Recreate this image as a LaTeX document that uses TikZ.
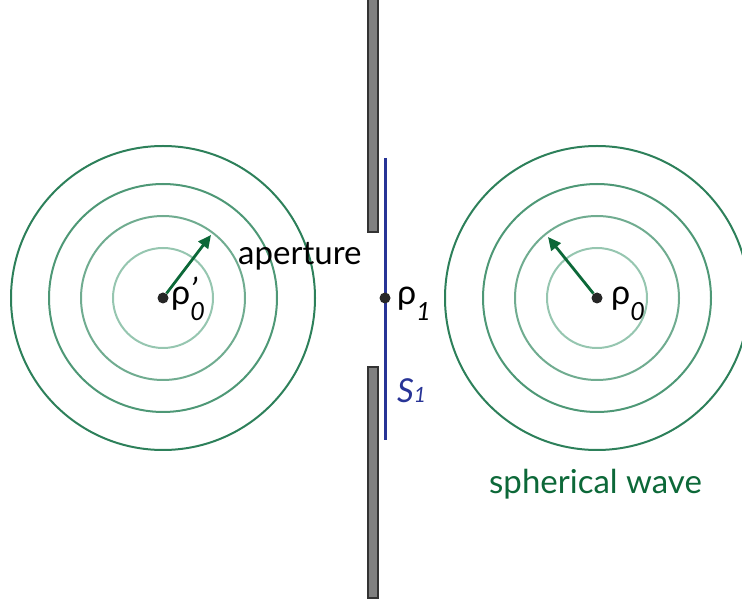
\documentclass[tikz,border=0pt]{standalone}
\usepackage{fontspec}
\setmainfont{Lato}
\usepackage{xcolor}
\usetikzlibrary{positioning, arrows.meta}

\definecolor{ringA}{RGB}{150,198,176}
\definecolor{ringB}{RGB}{112,172,144}
\definecolor{ringC}{RGB}{78,152,118}
\definecolor{ringD}{RGB}{45,128,90}
\definecolor{wavegreen}{RGB}{12,104,56}
\definecolor{surfblue}{RGB}{40,52,150}
\definecolor{bargray}{RGB}{128,128,128}

\newcommand{\bigtxt}{\fontsize{33}{38}\selectfont}
\newcommand{\rhotxt}{\fontsize{34}{38}\selectfont}
\newcommand{\subtxt}[1]{\raisebox{-16pt}{\fontsize{25}{28}\selectfont\itshape #1}}

\begin{document}
\begin{tikzpicture}[x=1pt, y=1pt,
    ringA/.style={draw=ringA, line width=2pt},
    ringB/.style={draw=ringB, line width=2pt},
    ringC/.style={draw=ringC, line width=2pt},
    ringD/.style={draw=ringD, line width=2pt},
    dot/.style={circle, fill=black!85, inner sep=0pt, minimum size=11pt},
    barbox/.style={draw=black!80, fill=bargray, line width=1.6pt},
    wavearrow/.style={-{Triangle[length=13pt,width=12pt]}, draw=wavegreen, line width=2.8pt},
    lbl/.style={inner sep=0pt, font=\bigtxt}]
  \useasboundingbox (0,0) rectangle (742,603);

  % Screen with the aperture
  \draw[barbox] (368,606) rectangle (378,371);
  \draw[barbox] (368,236) rectangle (378,5);
  \draw[surfblue, line width=3pt] (385,445) -- (385,163);

  % Sources and the aperture point
  \node[dot] (src0) at (163,305) {};
  \node[dot] (src1) at (597,305) {};
  \node[dot] (pt1) at (385,305) {};

  % Wave fronts round the left source
  \draw[ringA] (src0) circle (50pt);
  \draw[ringB] (src0) circle (82pt);
  \draw[ringC] (src0) circle (114pt);
  \draw[ringD] (src0) circle (152pt);

  % Wave fronts round the right source
  \draw[ringA] (src1) circle (50pt);
  \draw[ringB] (src1) circle (82pt);
  \draw[ringC] (src1) circle (114pt);
  \draw[ringD] (src1) circle (152pt);

  % Radius arrows
  \coordinate (tip0) at (211,368);
  \coordinate (tip1) at (548,366);
  \draw[wavearrow] (src0) -- (tip0);
  \draw[wavearrow] (src1) -- (tip1);

  % Labels
  \node[lbl, anchor=base west, font=\rhotxt] (rho0p) at (171,298)
    {ρ\rlap{\raisebox{2pt}{\itshape '}}\subtxt{0}};
  \node[lbl, anchor=base west, font=\rhotxt] (rho0) at (611,298) {ρ\subtxt{0}};
  \node[lbl, anchor=base west, font=\rhotxt] (rho1) at (397,298) {ρ\subtxt{1}};
  \node[lbl, anchor=base west] (aper) at (238,338) {aperture};
  \node[lbl, anchor=base west, text=surfblue] (surf) at (397,200)
    {\itshape S\fontsize{21}{24}\selectfont 1};
  \node[lbl, anchor=base west, text=wavegreen] (sph) at (489,110) {spherical wave};
\end{tikzpicture}
\end{document}
